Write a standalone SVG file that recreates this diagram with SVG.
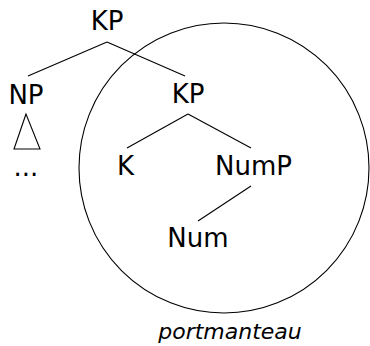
<svg xmlns="http://www.w3.org/2000/svg" width="370" height="346" viewBox="0 0 370 346">
<style>
.t{font-family:"DejaVu Sans",sans-serif;font-size:26px;fill:#000;text-anchor:middle}
.i{font-family:"DejaVu Sans",sans-serif;font-size:22px;font-style:italic;fill:#000;text-anchor:middle}
.l{stroke:#000;stroke-width:1.1;fill:none}
</style>
<rect width="370" height="346" fill="#fff"/>
<g id="connectors">
<line class="l" x1="107" y1="42" x2="28" y2="76"/>
<line class="l" x1="107" y1="42" x2="185" y2="76"/>
<line class="l" x1="188" y1="114" x2="127" y2="148"/>
<line class="l" x1="188" y1="114" x2="251" y2="148"/>
<line class="l" x1="251" y1="186" x2="198" y2="221"/>
</g>
<g id="circle"><circle class="l" cx="224" cy="168" r="145"/></g>
<g id="kp-top"><text class="t" x="107" y="30">KP</text></g>
<g id="np"><text class="t" x="26" y="104">NP</text></g>
<g id="triangle"><polygon class="l" points="26,114 14,149 40,149"/></g>
<g id="dots"><text class="t" x="26" y="176">...</text></g>
<g id="kp"><text class="t" x="188" y="103">KP</text></g>
<g id="k"><text class="t" x="125.5" y="175">K</text></g>
<g id="nump"><text class="t" x="253.5" y="175">NumP</text></g>
<g id="num"><text class="t" x="198" y="247">Num</text></g>
<g id="label"><text class="i" x="230" y="339">portmanteau</text></g>
</svg>
